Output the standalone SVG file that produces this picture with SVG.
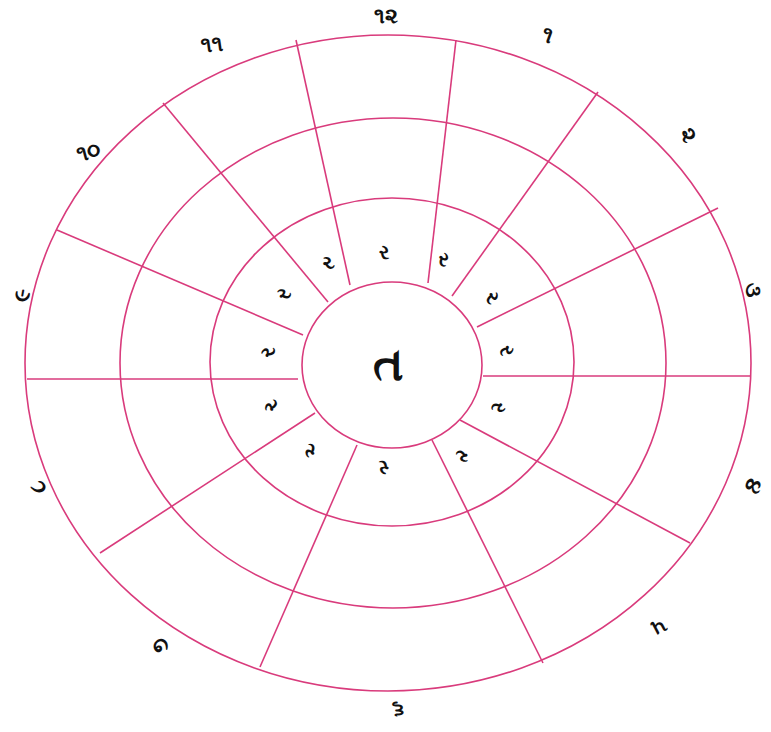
<svg xmlns="http://www.w3.org/2000/svg" width="771" height="732" viewBox="0 0 771 732">
<style>
.ring{fill:none;stroke:#d93b7c;stroke-width:1.6}
.sp{stroke:#d93b7c;stroke-width:1.6}
.lbl{font-family:"Noto Sans","DejaVu Sans",sans-serif;font-size:22px;font-weight:600;fill:#111;text-anchor:middle;dominant-baseline:central}
.in{font-size:20px}
.c{font-size:46px;font-weight:bold}
</style>
<rect width="771" height="732" fill="#fff"/>
<g id="connectors">
<line class="sp" x1="296" y1="40" x2="350" y2="285"/>
<line class="sp" x1="456" y1="40" x2="428" y2="283"/>
<line class="sp" x1="598" y1="92" x2="452" y2="296"/>
<line class="sp" x1="718" y1="208" x2="477" y2="327"/>
<line class="sp" x1="751" y1="376" x2="483" y2="376"/>
<line class="sp" x1="690" y1="543" x2="460" y2="420"/>
<line class="sp" x1="543" y1="663" x2="432" y2="440"/>
<line class="sp" x1="260" y1="667" x2="357" y2="445"/>
<line class="sp" x1="100" y1="553" x2="315" y2="413"/>
<line class="sp" x1="27" y1="379" x2="298" y2="379"/>
<line class="sp" x1="57" y1="230" x2="303" y2="335"/>
<line class="sp" x1="163" y1="103" x2="328" y2="302"/>
</g>
<g id="rings">
<ellipse class="ring" cx="388" cy="363" rx="363" ry="328"/>
<ellipse class="ring" cx="393" cy="363" rx="273" ry="245"/>
<ellipse class="ring" cx="392" cy="362" rx="182" ry="164"/>
<ellipse id="center" class="ring" cx="392" cy="365" rx="90" ry="83" fill="#fff"/>
</g>
<g id="center-label"><text class="lbl c" x="388" y="362">ત</text></g>
<g id="outer-labels">
<text class="lbl" x="386" y="14">૧૨</text>
<text class="lbl" x="548" y="33" transform="rotate(20 548 33)">૧</text>
<text class="lbl" x="690" y="134" transform="rotate(60 690 134)">૨</text>
<text class="lbl" x="755" y="290" transform="rotate(88 755 290)">૩</text>
<text class="lbl" x="755" y="487" transform="rotate(112 755 487)">૪</text>
<text class="lbl" x="660" y="628" transform="rotate(152 660 628)">૫</text>
<text class="lbl" x="398" y="712" transform="rotate(180 398 712)">૬</text>
<text class="lbl" x="160" y="648" transform="rotate(210 160 648)">૭</text>
<text class="lbl" x="36" y="488" transform="rotate(245 36 488)">૮</text>
<text class="lbl" x="20" y="295" transform="rotate(-80 20 295)">૯</text>
<text class="lbl" x="88" y="150" transform="rotate(-15 88 150)">૧૦</text>
<text class="lbl" x="212" y="43" transform="rotate(-8 212 43)">૧૧</text>
</g>
<g id="inner-labels">
<text class="lbl in" x="384" y="251">ર</text>
<text class="lbl in" x="444" y="258" transform="rotate(25 444 258)">ર</text>
<text class="lbl in" x="493" y="297" transform="rotate(55 493 297)">ર</text>
<text class="lbl in" x="508" y="350" transform="rotate(85 508 350)">ર</text>
<text class="lbl in" x="500" y="408" transform="rotate(115 500 408)">ર</text>
<text class="lbl in" x="463" y="457" transform="rotate(150 463 457)">ર</text>
<text class="lbl in" x="384" y="468" transform="rotate(180 384 468)">ર</text>
<text class="lbl in" x="310" y="452" transform="rotate(210 310 452)">ર</text>
<text class="lbl in" x="270" y="407" transform="rotate(245 270 407)">ર</text>
<text class="lbl in" x="267" y="352" transform="rotate(-85 267 352)">ર</text>
<text class="lbl in" x="283" y="294" transform="rotate(-55 283 294)">ર</text>
<text class="lbl in" x="327" y="262" transform="rotate(-25 327 262)">ર</text>
</g>
</svg>
